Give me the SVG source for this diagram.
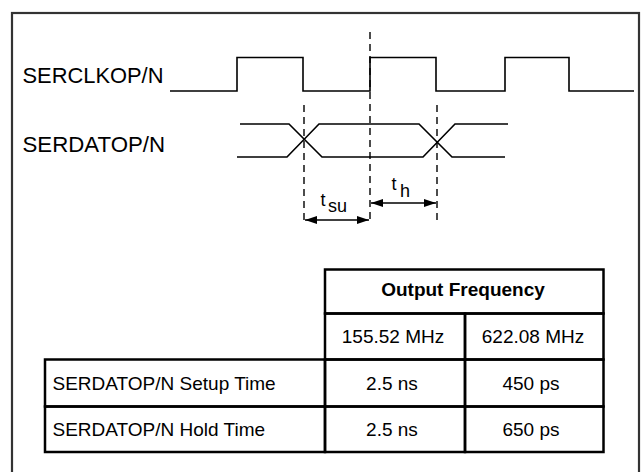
<svg xmlns="http://www.w3.org/2000/svg" width="642" height="472" viewBox="0 0 642 472">
<defs>
<style>
text{font-family:"Liberation Sans",Arial,sans-serif;fill:#000}
.lbl{font-size:22px}
.tl{font-size:19px}
.hd{font-size:19px;font-weight:bold}
.sym{font-size:18px}
.sig{fill:none;stroke:#000;stroke-width:1.6}
.dash{fill:none;stroke:#000;stroke-width:1.4;stroke-dasharray:7 5}
.dim{fill:none;stroke:#000;stroke-width:1.6}
.cell{fill:none;stroke:#000;stroke-width:2.5}
</style>
<marker id="ah" viewBox="0 0 12 8" refX="12" refY="4" markerWidth="12" markerHeight="8" markerUnits="userSpaceOnUse" orient="auto-start-reverse">
<path d="M0,0 L12,4 L0,8 z" fill="#000"/>
</marker>
</defs>
<rect width="642" height="472" fill="#fff"/>
<rect id="frame" x="12" y="13" width="627" height="480" fill="none" stroke="#333" stroke-width="2.2"/>

<g id="clk">
<text class="lbl" x="22.5" y="82.5" textLength="141" lengthAdjust="spacingAndGlyphs">SERCLKOP/N</text>
<path class="sig" d="M170,91 H237 V57.5 H303 V91 H370 V57.5 H436 V91 H505 V57.5 H569 V91 H634"/>
</g>

<g id="data">
<text class="lbl" x="22.5" y="152" textLength="142.5" lengthAdjust="spacingAndGlyphs">SERDATOP/N</text>
<path class="sig" d="M240,124 H289 L322,157 H423 L455,124 H508"/>
<path class="sig" d="M237,157 H287 L319,124 H419 L452,157 H505"/>
</g>

<g id="connectors">
<line class="dash" x1="304" y1="105" x2="304" y2="224"/>
<line class="dash" x1="370" y1="32" x2="370" y2="224"/>
<line class="dash" x1="437" y1="105" x2="437" y2="224"/>
<line class="dim" x1="305" y1="220" x2="369" y2="220" marker-start="url(#ah)" marker-end="url(#ah)"/>
<line class="dim" x1="371" y1="203" x2="436" y2="203" marker-start="url(#ah)" marker-end="url(#ah)"/>
</g>

<g id="tsu">
<text class="sym" x="320.5" y="205.5">t</text>
<text class="sym" x="328" y="212">su</text>
</g>
<g id="th">
<text class="sym" x="391.5" y="190">t</text>
<text class="sym" x="400" y="197">h</text>
</g>

<g id="table">
<g id="hdr">
<rect class="cell" x="325" y="269.5" width="278.5" height="44"/>
<text class="hd" x="463" y="295.5" text-anchor="middle">Output Frequency</text>
</g>
<g id="freq1">
<rect class="cell" x="325" y="313.5" width="140" height="46"/>
<text class="tl" x="393" y="343" text-anchor="middle">155.52 MHz</text>
</g>
<g id="freq2">
<rect class="cell" x="465" y="313.5" width="138.5" height="46"/>
<text class="tl" x="533" y="343" text-anchor="middle">622.08 MHz</text>
</g>
<g id="setup">
<rect class="cell" x="45" y="359.5" width="280" height="47"/>
<text class="tl" x="52.5" y="389.5">SERDATOP/N Setup Time</text>
<rect class="cell" x="325" y="359.5" width="140" height="47"/>
<text class="tl" x="392" y="389.5" text-anchor="middle">2.5 ns</text>
<rect class="cell" x="465" y="359.5" width="138.5" height="47"/>
<text class="tl" x="531" y="389.5" text-anchor="middle">450 ps</text>
</g>
<g id="hold">
<rect class="cell" x="45" y="406.5" width="280" height="45.5"/>
<text class="tl" x="52.5" y="435.5">SERDATOP/N Hold Time</text>
<rect class="cell" x="325" y="406.5" width="140" height="45.5"/>
<text class="tl" x="392" y="435.5" text-anchor="middle">2.5 ns</text>
<rect class="cell" x="465" y="406.5" width="138.5" height="45.5"/>
<text class="tl" x="531" y="435.5" text-anchor="middle">650 ps</text>
</g>
</g>
</svg>
